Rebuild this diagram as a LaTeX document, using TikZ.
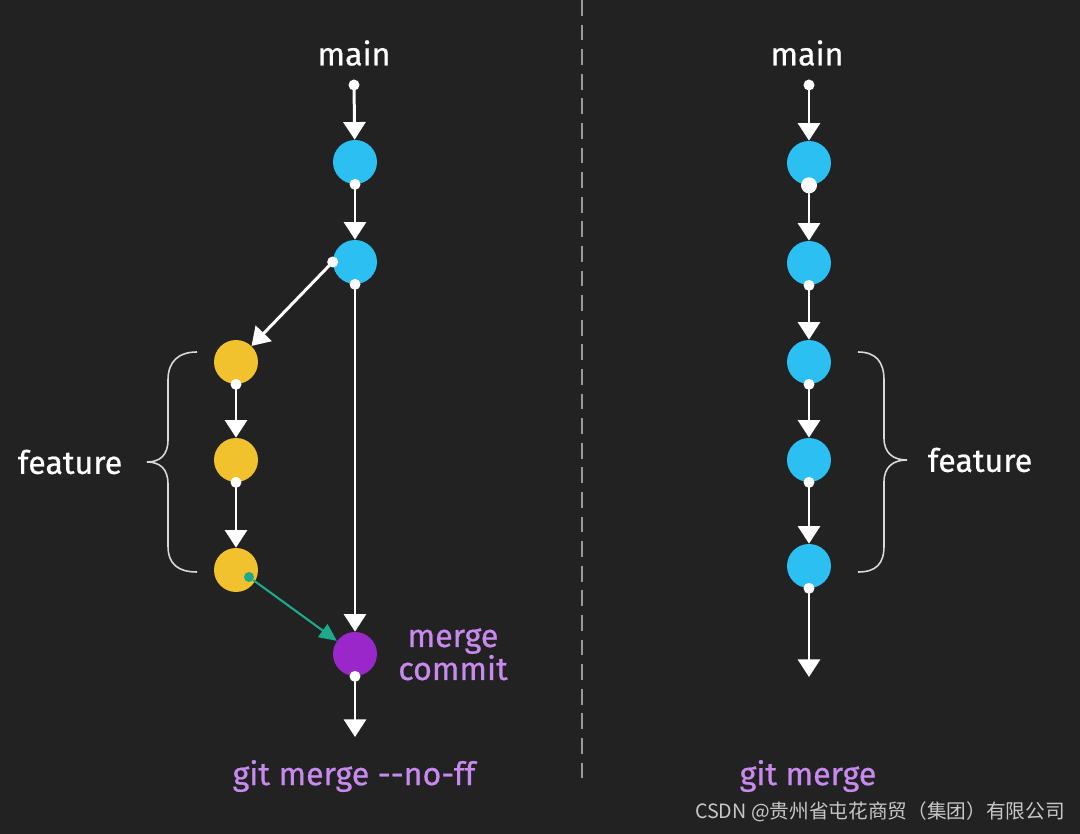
\documentclass[tikz,border=0pt]{standalone}
\usepackage{fontspec}
\setmainfont{Fira Sans}
\newfontfamily\lblfont[FakeBold=0.6]{Fira Sans}
\newfontfamily\cjk{Noto Sans CJK SC}
\usetikzlibrary{arrows.meta}
\definecolor{bg}{HTML}{222222}
\definecolor{bluec}{HTML}{2CC0F2}
\definecolor{yellowc}{HTML}{F2C12E}
\definecolor{purplec}{HTML}{9A27C9}
\definecolor{ptext}{HTML}{C98AF0}
\definecolor{teal}{HTML}{1DA98C}
\definecolor{dashc}{HTML}{9A9A9A}
\definecolor{wm}{HTML}{C8C8C8}
\tikzset{
  commit/.style={circle, inner sep=0pt, minimum size=0.88cm},
  bluenode/.style={commit, fill=bluec},
  yellownode/.style={commit, fill=yellowc},
  purplenode/.style={commit, fill=purplec},
  wdot/.style={circle, fill=white, inner sep=0pt, minimum size=0.22cm},
  gdot/.style={circle, fill=teal, inner sep=0pt, minimum size=0.2cm},
  arr/.style={draw=white, line width=1.7pt, -{Triangle[width=12.5pt,length=10pt]}, shorten <=-1pt},
  tarr/.style={draw=teal, line width=1.2pt, -{Triangle[width=9pt,length=10pt]}},
  lbl/.style={text=white, font=\lblfont\fontsize{18.3}{20}\selectfont, inner sep=0pt},
  plbl/.style={text=ptext, font=\lblfont\fontsize{18.3}{18}\selectfont, inner sep=0pt},
  brace/.style={draw=white!85!black, line width=0.9pt}
}
\begin{document}
\begin{tikzpicture}[x=0.02cm,y=-0.02cm]
\fill[bg] (0,0) rectangle (1080,834);
\useasboundingbox (0,0) rectangle (1080,834);

% ---------- left: git merge --no-ff ----------
\node[lbl] (lmain) at (354,53) {main};
\node[wdot] (ld0) at (354,85) {};
\node[bluenode] (lb1) at (355,162) {};
\node[bluenode] (lb2) at (355,262) {};
\node[yellownode] (ly1) at (236,362) {};
\node[yellownode] (ly2) at (236,460) {};
\node[yellownode] (ly3) at (236,570) {};
\node[purplenode] (lp) at (355,654) {};
\node[wdot] (lb1s) at (lb1.south) {};
\node[wdot] (lb2s) at (lb2.south) {};
\node[wdot] (lb2w) at (lb2.west) {};
\node[wdot] (ly1s) at (ly1.south) {};
\node[wdot] (ly2s) at (ly2.south) {};
\node[gdot] (lg) at (249,577) {};
\node[wdot] (lps) at (lp.south) {};
\coordinate (lend) at (355,737);

\draw[arr] (ld0) -- (lb1);
\draw[arr] (lb1s) -- (lb2);
\draw[arr] (lb2w) -- (ly1);
\draw[arr] (ly1s) -- (ly2);
\draw[arr] (ly2s) -- (ly3);
\draw[arr] (lb2s) -- (lp);
\draw[tarr] (lg) -- (lp);
\draw[arr] (lps) -- (lend);

\node[plbl, anchor=base] (lmc1) at (453,647) {merge};
\node[plbl, anchor=base] (lmc2) at (453,680) {commit};
\node[plbl] (lcmd) at (354,776) {git merge -{}-no-ff};

\draw[brace] (197,352) .. controls (178,352) and (168,362) .. (168,380) -- (168,440)
  .. controls (168,455) and (160,462) .. (147,462)
  .. controls (160,462) and (168,469) .. (168,484) -- (168,546)
  .. controls (168,564) and (178,572) .. (197,572);
\node[lbl] (lfeat) at (70,462) {feature};

% ---------- separator ----------
\draw[dashc, line width=1.3pt, dash pattern=on 9pt off 5pt] (582,0) -- (582,785);

% ---------- right: git merge ----------
\node[lbl] (rmain) at (807,53) {main};
\node[wdot] (rd0) at (809,85) {};
\node[bluenode] (rb1) at (809,163) {};
\node[bluenode] (rb2) at (809,263) {};
\node[bluenode] (rb3) at (809,362) {};
\node[bluenode] (rb4) at (809,460) {};
\node[bluenode] (rb5) at (809,566) {};
\node[wdot, minimum size=0.32cm] (rb1s) at (rb1.south) {};
\node[wdot] (rb2s) at (rb2.south) {};
\node[wdot] (rb3s) at (rb3.south) {};
\node[wdot] (rb4s) at (rb4.south) {};
\node[wdot] (rb5s) at (rb5.south) {};
\coordinate (rend) at (809,677);

\draw[arr] (rd0) -- (rb1);
\draw[arr] (rb1s) -- (rb2);
\draw[arr] (rb2s) -- (rb3);
\draw[arr] (rb3s) -- (rb4);
\draw[arr] (rb4s) -- (rb5);
\draw[arr] (rb5s) -- (rend);

\draw[brace] (858,352) .. controls (876,352) and (884,362) .. (884,380) -- (884,438)
  .. controls (884,453) and (893,460) .. (907,460)
  .. controls (893,460) and (884,467) .. (884,482) -- (884,546)
  .. controls (884,564) and (876,572) .. (858,572);
\node[lbl] (rfeat) at (980,460) {feature};
\node[plbl] (rcmd) at (808,776) {git merge};

\node[text=wm, font=\cjk\fontsize{11.2}{13}\selectfont, inner sep=0pt] (wmark) at (880,812) {CSDN @贵州省屯花商贸（集团）有限公司};
\end{tikzpicture}
\end{document}
